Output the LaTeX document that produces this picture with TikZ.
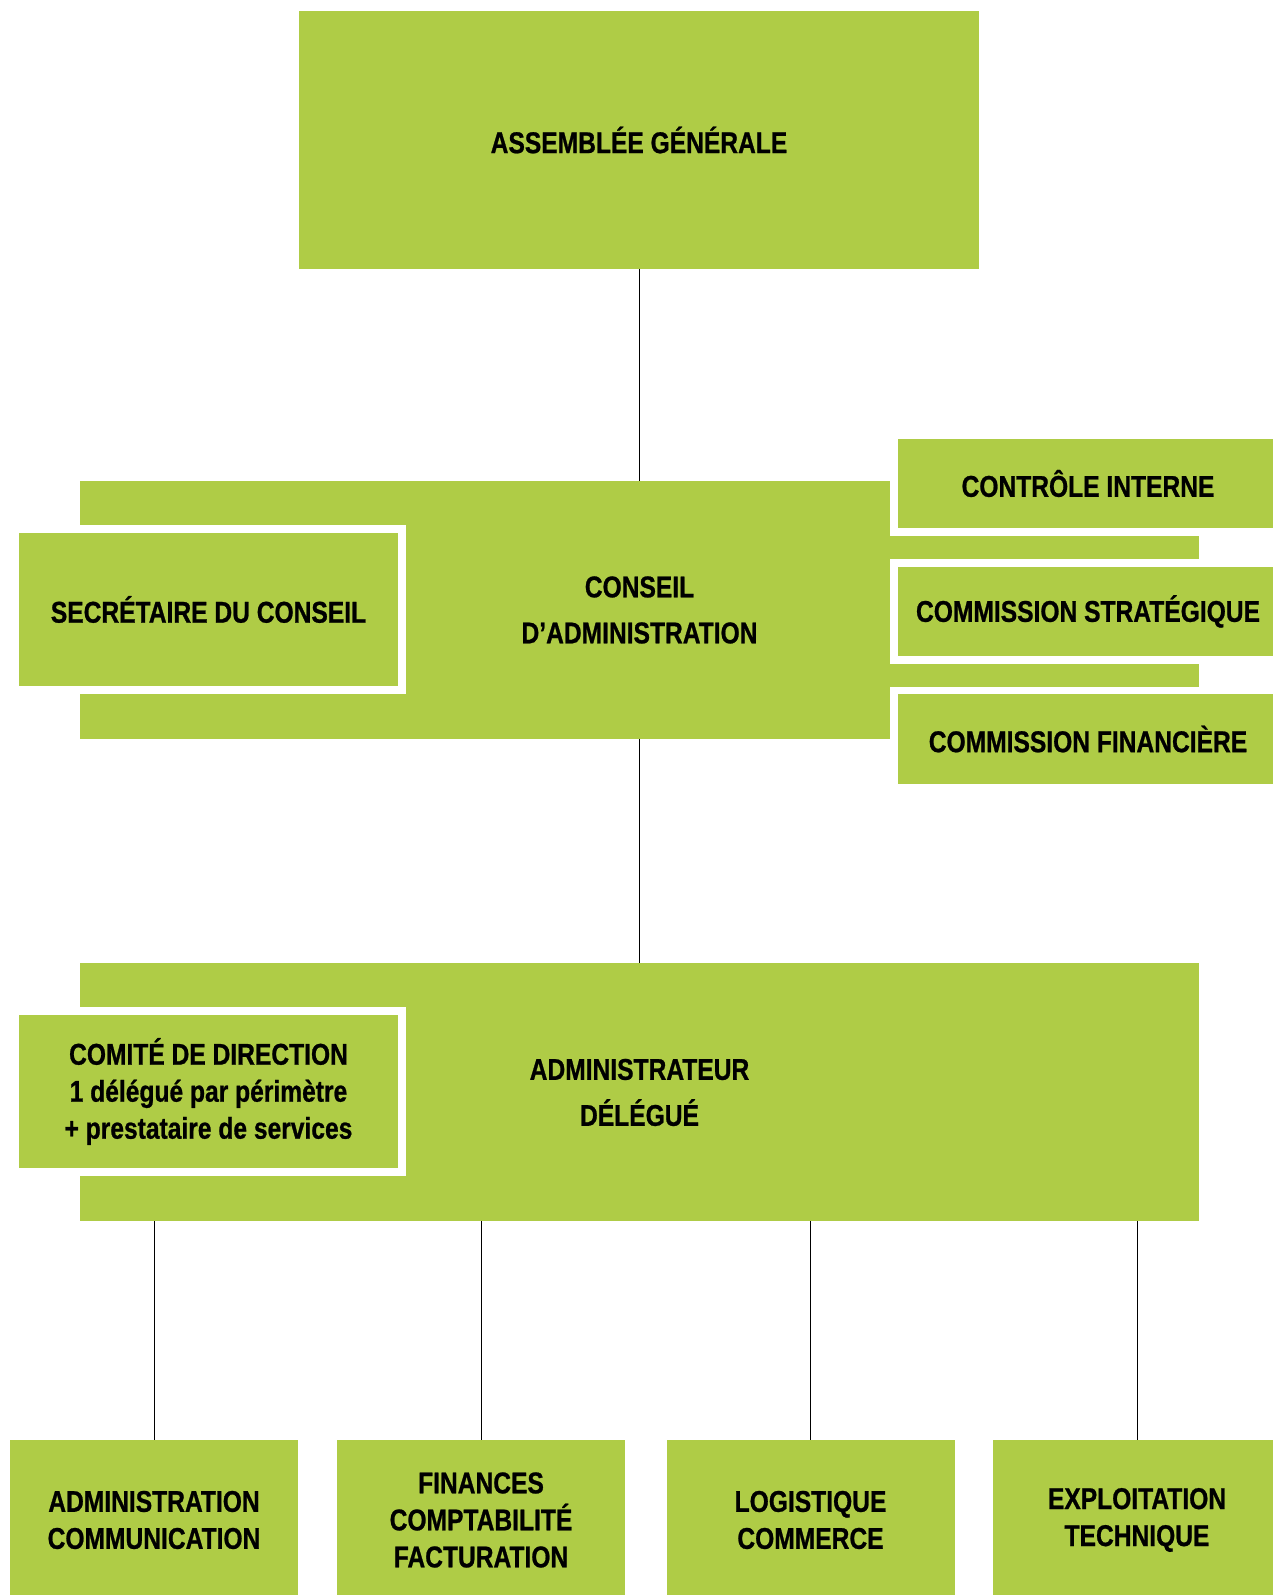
\documentclass[tikz,border=0pt]{standalone}
\usepackage{fontspec}
\setmainfont{Liberation Sans}[FakeStretch=0.82, BoldFeatures={FakeBold=0.8}]
\definecolor{orggreen}{RGB}{175,204,70}

\begin{document}
\begin{tikzpicture}[
			x=1pt, y=1pt,
			every node/.style={font=\bfseries\fontsize{30}{37}\selectfont, align=center, inner sep=0pt, outer sep=0pt},
			greenbox/.style={fill=orggreen},
			topbox/.style={greenbox, minimum width=680pt, minimum height=258pt},
			levelbox/.style={greenbox, minimum width=1119pt, minimum height=258pt, font=\bfseries\fontsize{30}{46}\selectfont},
			framedbox/.style={greenbox, draw=white, line width=7.7pt, minimum width=387pt, minimum height=161pt},
			commission/.style={greenbox, draw=white, line width=7.7pt, minimum width=388pt, minimum height=97pt},
			service/.style={greenbox, minimum width=288pt, minimum height=160pt},
			link/.style={line width=1pt}
			]
			\useasboundingbox (0,0) rectangle (1272,1595);
			% top level
			\node[topbox] (ag) at (639,1455) {ASSEMBLÉE GÉNÉRALE};
			% board and its committees
			\node[levelbox] (conseil) at (639.5,985) {CONSEIL\\D’ADMINISTRATION};
			\node[framedbox] (secretaire) at (208.5,985.5) {SECRÉTAIRE DU CONSEIL};
			\node[commission] (controle) at (1088,1111.5) {CONTRÔLE INTERNE};
			\node[commission] (strategique) at (1088,983.5) {COMMISSION STRATÉGIQUE};
			\node[commission] (financiere) at (1088,856) {COMMISSION FINANCIÈRE};
			% management
			\node[levelbox] (admin) at (639.5,502.5) {ADMINISTRATEUR\\DÉLÉGUÉ};
			\node[framedbox] (comite) at (208.5,503.5) {COMITÉ DE DIRECTION\\1 délégué par périmètre\\+ prestataire de services};
			% departments
			\node[service] (admcom) at (154,75) {ADMINISTRATION\\COMMUNICATION};
			\node[service] (finances) at (481,75) {FINANCES\\COMPTABILITÉ\\FACTURATION};
			\node[service] (logcom) at (810.5,75) {LOGISTIQUE\\COMMERCE};
			\node[service] (exptech) at (1137,75) {EXPLOITATION\\TECHNIQUE};
			% connectors
			\draw[link] (ag.south) -- (ag.south |- conseil.north);
			\draw[link] (conseil.south) -- (conseil.south |- admin.north);
			\foreach \unit in {admcom, finances, logcom, exptech}
				\draw[link] (admin.south -| \unit.north) -- (\unit.north);
		\end{tikzpicture}
\end{document}
